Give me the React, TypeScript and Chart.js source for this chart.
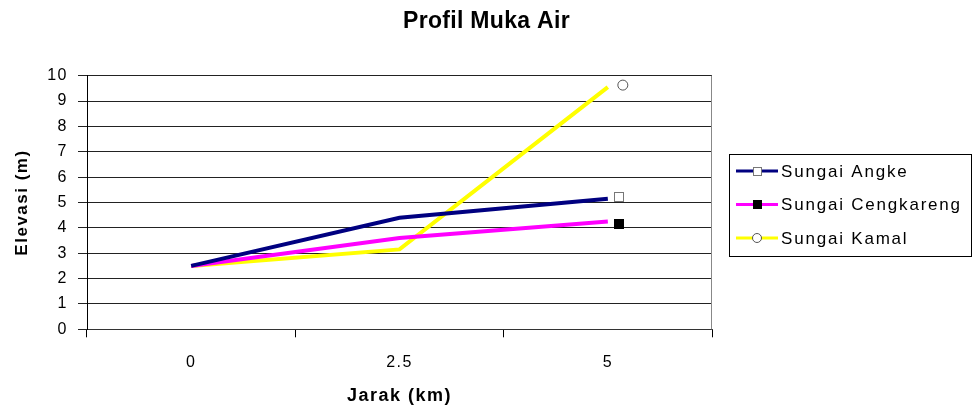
import React, { useEffect, useRef } from 'react';
import { Chart, registerables } from 'chart.js';

Chart.register(...registerables);

const titleText = 'Profil Muka Air';
const xAxisTitle = 'Jarak (km)';
const yAxisTitle = 'Elevasi (m)';
const categories = ['0', '2.5', '5'];
const seriesNames = ['Sungai Angke', 'Sungai Cengkareng', 'Sungai Kamal'];
const angke = [2.5, 4.4, 5.15];
const cengkareng = [2.5, 3.6, 4.25];
const kamal = [2.5, 3.15, 9.55];
const yMin = 0;
const yMax = 10;
const yStep = 1;

const FONT = "'Liberation Sans', Arial, sans-serif";
const colors = ['#000080', '#FF00FF', '#FFFF00'];
const markers = [
  { type: 'square', fill: '#FFFFFF', stroke: '#777777', dx: 11, dy: -2 },
  { type: 'square', fill: '#000000', stroke: '#000000', dx: 11, dy: 2 },
  { type: 'circle', fill: '#FFFFFF', stroke: '#555555', dx: 15, dy: -2 },
];

function drawMarker(ctx: CanvasRenderingContext2D, m: any, x: number, y: number, size: number) {
  ctx.save();
  ctx.lineWidth = 1;
  ctx.fillStyle = m.fill;
  ctx.strokeStyle = m.stroke;
  if (m.type === 'square') {
    const h = size / 2;
    ctx.fillRect(Math.round(x - h), Math.round(y - h), size, size);
    ctx.strokeRect(Math.round(x - h) + 0.5, Math.round(y - h) + 0.5, size - 1, size - 1);
  } else {
    ctx.beginPath();
    ctx.arc(x, y, size / 2, 0, Math.PI * 2);
    ctx.fill();
    ctx.stroke();
  }
  ctx.restore();
}

const spacing = {
  id: 'spacing',
  beforeDraw(chart: any) {
    (chart.ctx as any).letterSpacing = '1.5px';
  },
};

const titlePlugin = {
  id: 'centerTitle',
  afterDraw(chart: any) {
    const ctx = chart.ctx;
    ctx.save();
    (ctx as any).letterSpacing = '0.3px';
    ctx.fillStyle = '#000000';
    ctx.font = `bold 23px ${FONT}`;
    ctx.textAlign = 'center';
    ctx.textBaseline = 'middle';
    ctx.fillText(titleText, chart.width / 2, 22);
    ctx.restore();
  },
};

const endMarkers = {
  id: 'endMarkers',
  afterDatasetsDraw(chart: any) {
    const ctx = chart.ctx;
    chart.data.datasets.forEach((ds: any, i: number) => {
      const meta = chart.getDatasetMeta(i);
      const last = meta.data[meta.data.length - 1];
      const m = markers[i];
      drawMarker(ctx, m, last.x + m.dx, last.y + m.dy, 10);
    });
  },
};

const plotBorder = {
  id: 'plotBorder',
  beforeDatasetsDraw(chart: any) {
    const { ctx, chartArea } = chart;
    ctx.save();
    ctx.strokeStyle = '#888888';
    ctx.lineWidth = 1;
    ctx.beginPath();
    const x = Math.round(chartArea.right) - 0.5;
    ctx.moveTo(x, chartArea.top);
    ctx.lineTo(x, chartArea.bottom);
    ctx.stroke();
    ctx.restore();
  },
};

const boxLegend = {
  id: 'boxLegend',
  afterDraw(chart: any) {
    const { ctx, chartArea } = chart;
    const left = chartArea.right + 17;
    const top = 154;
    const width = 242;
    const rowH = 33.5;
    const height = 102;
    ctx.save();
    ctx.strokeStyle = '#000000';
    ctx.lineWidth = 1;
    ctx.strokeRect(Math.round(left) + 0.5, top + 0.5, width, height);
    chart.data.datasets.forEach((ds: any, i: number) => {
      const y = top + 17 + i * rowH;
      ctx.strokeStyle = ds.borderColor;
      ctx.lineWidth = 3;
      ctx.beginPath();
      ctx.moveTo(left + 7, y);
      ctx.lineTo(left + 49, y);
      ctx.stroke();
      drawMarker(ctx, markers[i], left + 28, y, 9);
      ctx.fillStyle = '#000000';
      ctx.font = `17px ${FONT}`;
      ctx.textBaseline = 'middle';
      ctx.textAlign = 'left';
      (ctx as any).letterSpacing = '1.8px';
      ctx.fillText(ds.label, left + 52, y + 1);
    });
    ctx.restore();
  },
};

export default function App() {
  const ref = useRef<HTMLCanvasElement | null>(null);
  useEffect(() => {
    if (!ref.current) return;
    const series = [angke, cengkareng, kamal];
    const chart = new Chart(ref.current, {
      type: 'line',
      data: {
        labels: categories,
        datasets: series.map((d, i) => ({
          label: seriesNames[i],
          data: d,
          borderColor: colors[i],
          backgroundColor: colors[i],
          borderWidth: 4,
          pointRadius: 0,
          tension: 0,
          fill: false,
        })),
      },
      options: {
        animation: false,
        responsive: true,
        maintainAspectRatio: false,
        layout: { padding: { left: 0, right: 261, top: 75.7, bottom: 0 } },
        plugins: {
          legend: { display: false },
          tooltip: { enabled: false },
          title: { display: false },
        },
        scales: {
          x: {
            type: 'category',
            offset: true,
            grid: { display: true, drawOnChartArea: false, drawTicks: true, tickLength: 8, color: '#000000', offset: true },
            border: { display: true, color: '#333333' },
            ticks: { color: '#000000', font: { family: FONT, size: 16 }, padding: 16, maxRotation: 0 },
            title: { display: true, text: xAxisTitle, color: '#000000', font: { family: FONT, size: 18, weight: 'bold' }, padding: { top: 0, bottom: 5 } },
            afterFit: (s: any) => { s.height = 82.7; },
          },
          y: {
            min: yMin,
            max: yMax,
            ticks: { stepSize: yStep, color: '#000000', font: { family: FONT, size: 16 }, padding: 10 },
            grid: { color: '#222222', tickLength: 9, drawTicks: true },
            border: { display: true, color: '#000000' },
            title: { display: true, text: yAxisTitle, color: '#000000', font: { family: FONT, size: 17, weight: 'bold' }, padding: { top: 12, bottom: 0 } },
            afterFit: (s: any) => { s.width = 87; },
          },
        },
      },
      plugins: [spacing, plotBorder, endMarkers, boxLegend, titlePlugin],
    } as any);
    return () => chart.destroy();
  }, []);
  return (
    <div style={{ position: 'absolute', left: 0, top: 0, width: 973, height: 412, background: '#fff' }}>
      <canvas ref={ref} />
    </div>
  );
}
